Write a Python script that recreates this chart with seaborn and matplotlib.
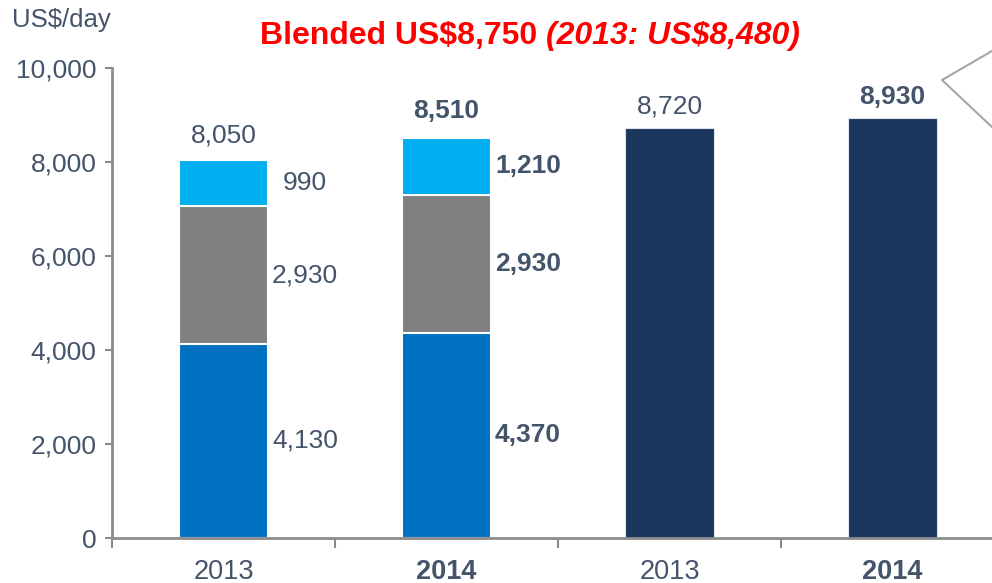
import matplotlib
matplotlib.use("Agg")
import matplotlib.pyplot as plt
import seaborn as sns
import pandas as pd
import numpy as np
from matplotlib.lines import Line2D

sns.set_style("white")
plt.rcParams['font.family'] = ['Liberation Sans', 'DejaVu Sans']

# ---- data ----
categories = ["2013", "2014", "2013 ", "2014 "]
tick_labels = ["2013", "2014", "2013", "2014"]
bold_ticks = [False, True, False, True]
stack_cats = ["2013", "2014"]
base_vals = [4130, 4370]      # bottom segment (blue)
mid_vals = [2930, 2930]       # middle segment (grey)
top_vals = [990, 1210]        # top segment (light blue)
stack_totals = [8050, 8510]
single_cats = ["2013 ", "2014 "]
single_vals = [8720, 8930]
title_main = "Blended US$8,750 "
title_ital = "(2013: US$8,480)"
ylabel = "US$/day"

c_base = "#0070C0"
c_mid = "#808080"
c_top = "#00B0F0"
c_navy = "#1B365D"
txt = "#44546A"
axis_c = "#8C8C8C"

fig = plt.figure(figsize=(9.92, 5.83), dpi=100)
ax = fig.add_axes([112/992, 45/583, 892/992, 470/583])

cum1 = np.array(base_vals)
cum2 = cum1 + np.array(mid_vals)
cum3 = cum2 + np.array(top_vals)

bw = 0.395
for heights, col in [(cum3, c_top), (cum2, c_mid), (cum1, c_base)]:
    d = pd.DataFrame({"cat": stack_cats, "val": heights})
    sns.barplot(data=d, x="cat", y="val", order=categories, color=col,
                width=bw, saturation=1, edgecolor="white", linewidth=1.5, ax=ax)
d2 = pd.DataFrame({"cat": single_cats, "val": single_vals})
sns.barplot(data=d2, x="cat", y="val", order=categories, color=c_navy,
            width=bw, saturation=1, edgecolor="#DDE3EA", linewidth=0.8, ax=ax)

ax.set_xlim(-0.5, 3.5)
ax.set_ylim(0, 10000)
ax.set_xlabel("")
ax.set_ylabel("")

fs = 19
total_offsets = [9, 11]
# segment labels
for i, (b, m, t) in enumerate(zip(base_vals, mid_vals, top_vals)):
    w = "bold" if bold_ticks[i] else "normal"
    xl = i + 0.365
    for val, yc in [(b, b / 2), (m, b + m / 2), (t, b + m + t / 2)]:
        ax.text(xl, yc, f"{val:,}", ha="center", va="center", fontsize=fs,
                color=txt, fontweight=w)
    ax.annotate(f"{stack_totals[i]:,}", (i, cum3[i]), xytext=(0, total_offsets[i]),
                textcoords="offset points", ha="center", va="bottom",
                fontsize=fs, color=txt, fontweight=w)
for j, v in enumerate(single_vals):
    i = 2 + j
    w = "bold" if bold_ticks[i] else "normal"
    ax.annotate(f"{v:,}", (i, v), xytext=(0, 7), textcoords="offset points",
                ha="center", va="bottom", fontsize=fs, color=txt, fontweight=w)

# axes styling
for s in ["top", "right"]:
    ax.spines[s].set_visible(False)
for s in ["left", "bottom"]:
    ax.spines[s].set_color(axis_c)
    ax.spines[s].set_linewidth(2)

ax.set_yticks(np.arange(0, 10001, 2000))
ax.set_yticklabels([f"{v:,}" for v in range(0, 10001, 2000)])
ax.tick_params(axis="y", direction="out", length=5, width=1.5, color=axis_c,
               labelsize=19, labelcolor=txt, pad=6, left=True)

ax.set_xticks([-0.5, 0.5, 1.5, 2.5, 3.5])
ax.set_xticklabels([""] * 5)
ax.tick_params(axis="x", which="major", direction="out", length=7, width=1.5,
               color=axis_c, bottom=True)
ax.set_xticks([0, 1, 2, 3], minor=True)
ax.set_xticklabels(tick_labels, minor=True)
ax.tick_params(axis="x", which="minor", length=0, pad=15, labelsize=19.5,
               labelcolor=txt)
for lab, b in zip(ax.get_xticklabels(minor=True), bold_ticks):
    if b:
        lab.set_fontweight("bold")

# titles
fig.text(12/992, 1 - 20/583, ylabel, ha="left", va="center", fontsize=18.5, color=txt)
t1 = fig.text(260/992, 1 - 36/583, title_main, ha="left", va="center",
              fontsize=23, color="#FF0000", fontweight="bold")
fig.canvas.draw()
bb = t1.get_window_extent()
fig.text(bb.x1/992, 1 - 36/583, title_ital, ha="left", va="center",
         fontsize=23, color="#FF0000", fontweight="bold", style="italic")

# callout lines at right edge
fig.add_artist(Line2D([992/992, 942/992, 992/992],
                      [1 - 51/583, 1 - 80/583, 1 - 127/583],
                      color="#A6A6A6", linewidth=1.5, transform=fig.transFigure))

fig.savefig("out.png", dpi=100)
